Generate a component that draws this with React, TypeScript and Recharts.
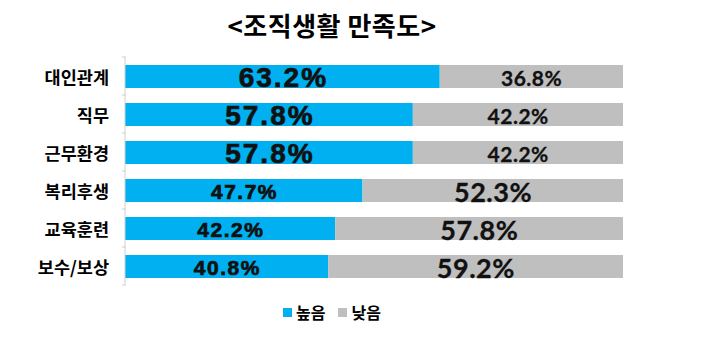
import { BarChart, Bar, XAxis, YAxis, LabelList } from "recharts"

// 조직생활 만족도 (%)
const categories = ["대인관계", "직무", "근무환경", "복리후생", "교육훈련", "보수/보상"]
const highValues = [63.2, 57.8, 57.8, 47.7, 42.2, 40.8]
const lowValues = [36.8, 42.2, 42.2, 52.3, 57.8, 59.2]
const seriesNames = ["높음", "낮음"]

const BLUE = "#00b0f0"
const GRAY = "#bfbfbf"
const KR_FONT = "'Noto Sans CJK KR', 'Noto Sans', sans-serif"

const data = categories.map((name, i) => ({
  name,
  high: highValues[i],
  low: lowValues[i],
}))

function CategoryTick(props: any) {
  const { x, y, payload } = props
  return (
    <g>
      <line x1={x - 3} x2={x + 1} y1={y - 19} y2={y - 19} stroke="#d0d0d0" />
      {payload.index === categories.length - 1 && (
        <line x1={x - 3} x2={x + 1} y1={y + 19} y2={y + 19} stroke="#d0d0d0" />
      )}
      <text
        x={x - 16}
        y={y}
        textAnchor="end"
        dominantBaseline="central"
        fontFamily={KR_FONT}
        fontWeight={700}
        fontSize={17.5}
        fill="#000"
      >
        {payload.value}
      </text>
    </g>
  )
}

function makeLabel(isHigh: boolean) {
  return (props: any) => {
    const { x, y, width, height, value } = props
    const big = value >= 50
    const family = isHigh ? "'Liberation Sans', Arial, sans-serif" : "Lato, 'Noto Sans', sans-serif"
    const size = isHigh ? (big ? 28 : 21) : big ? 27 : 21
    const spacing = isHigh ? (big ? 2 : 1.5) : 0.5
    return (
      <text
        x={x + width / 2 + spacing / 2}
        y={y + height / 2 + 1}
        textAnchor="middle"
        dominantBaseline="central"
        fontFamily={family}
        fontWeight={700}
        fontSize={size}
        letterSpacing={spacing}
        fill="#111"
        stroke="#111"
        strokeWidth={isHigh ? 0.7 : 0.3}
      >
        {value.toFixed(1)}%
      </text>
    )
  }
}

function LegendBox() {
  const items = [
    { name: seriesNames[0], color: BLUE },
    { name: seriesNames[1], color: GRAY },
  ]
  return (
    <div
      style={{
        position: "absolute",
        top: 300,
        left: 283,
        display: "flex",
        alignItems: "center",
        gap: 13,
        fontFamily: KR_FONT,
        fontWeight: 700,
        fontSize: 16,
      }}
    >
      {items.map((it) => (
        <div key={it.name} style={{ display: "flex", alignItems: "center", gap: 4 }}>
          <span style={{ width: 9, height: 9, background: it.color, display: "inline-block" }} />
          <span>{it.name}</span>
        </div>
      ))}
    </div>
  )
}

export default function App() {
  return (
    <div style={{ position: "absolute", left: 0, top: 0, width: 720, height: 356, background: "#fff" }}>
      <div
        style={{
          position: "absolute",
          top: 6,
          left: 0,
          width: 664,
          textAlign: "center",
          fontFamily: KR_FONT,
          fontWeight: 700,
          fontSize: 26,
          letterSpacing: 0.5,
          color: "#000",
        }}
      >
        {"<조직생활 만족도>"}
      </div>
      <BarChart
        width={720}
        height={356}
        data={data}
        layout="vertical"
        margin={{ top: 57, right: 97, bottom: 71, left: 0 }}
      >
        <XAxis type="number" domain={[0, 100]} hide />
        <YAxis
          type="category"
          dataKey="name"
          width={125}
          axisLine={{ stroke: "#d0d0d0" }}
          tickLine={false}
          tickSize={0}
          tickMargin={0}
          tick={<CategoryTick />}
        />
        <Bar dataKey="high" name={seriesNames[0]} stackId="a" fill={BLUE} barSize={23} isAnimationActive={false}>
          <LabelList dataKey="high" content={makeLabel(true)} />
        </Bar>
        <Bar dataKey="low" name={seriesNames[1]} stackId="a" fill={GRAY} barSize={23} isAnimationActive={false}>
          <LabelList dataKey="low" content={makeLabel(false)} />
        </Bar>
      </BarChart>
      <LegendBox />
    </div>
  )
}
